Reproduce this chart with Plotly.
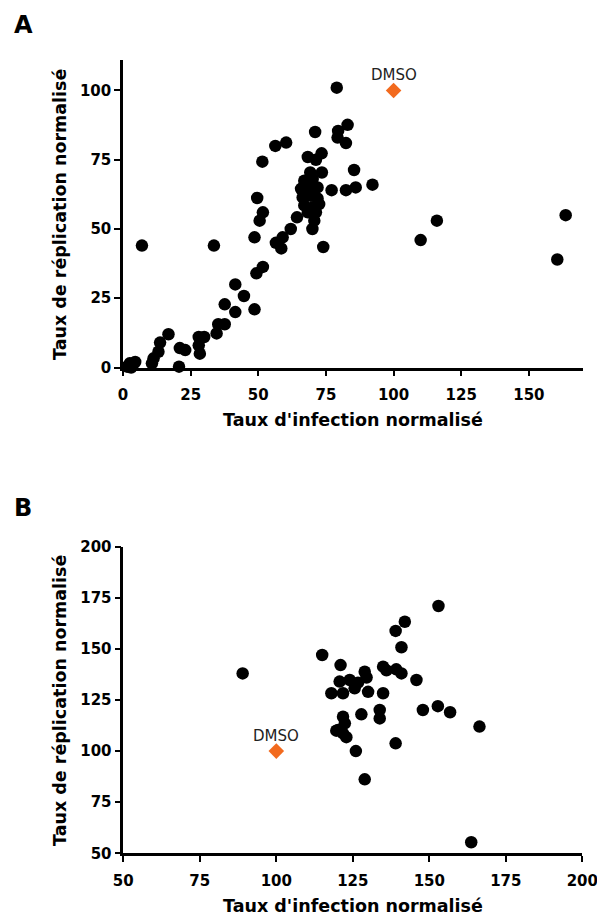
import plotly.graph_objects as go

# ---------------- Data ----------------
# Panel A : infection rate (x) vs replication rate (y), normalised to DMSO
a_infection = [79, 71, 83, 79.5, 79.3, 82.4, 56.3, 60.3, 51.5, 68.3, 73.4, 71.3, 85.4, 73.5, 69.2,
               67, 70.1, 65.8, 68.9, 71.9, 66.4, 69.5, 71.9, 67, 70.1, 72.5, 68.3, 71.3,
               77.1, 82.4, 86, 92.2, 49.6, 51.7, 50.5, 64.3, 62, 59, 56.5, 58.5,
               70.7, 70, 74, 48.6,
               7, 33.6, 51.7, 49.3, 41.5, 44.7, 37.6, 41.5, 48.6, 35.2, 37.6, 34.6, 28, 30, 28, 28.4,
               21, 23, 20.7, 16.8, 13.7, 13.1, 11.3, 10.7,
               1.5, 2.5, 3.5, 4.5, 3,
               116, 110, 163.6, 160.5]
a_replication = [101, 85, 87.6, 85.4, 83, 81, 80, 81.2, 74.3, 76, 77.3, 75, 71.3, 70.4, 70.4,
                 67.4, 68, 64.5, 65, 65, 61.4, 62, 61, 58.5, 57.8, 59, 56, 56,
                 64, 64, 65, 66, 61.2, 56, 53, 54.2, 50, 47, 45, 43,
                 53, 50, 43.5, 47,
                 44, 44, 36.3, 34, 30, 25.8, 22.8, 20, 21, 15.6, 15.6, 12.3, 11, 11, 8, 5,
                 7, 6.3, 0.3, 12, 9, 5.7, 3.3, 1.5,
                 0.3, 1.5, 0.5, 2, 0,
                 53, 46, 55, 39]

# Panel B
b_infection = [89, 115, 153, 142, 139, 140.9, 121, 128.9, 134.9, 136, 139.2, 140.9, 145.8,
               120.7, 124, 126.7, 125.6, 129.5, 118, 121.8, 130, 134.9,
               127.8, 133.8, 133.8, 121.8, 122.4, 120.2, 121.8, 122.9, 119.6,
               126, 139, 147.9, 152.8, 156.8, 166.4, 128.9, 163.7]
b_replication = [138, 147, 171, 163.3, 158.8, 150.8, 142.1, 138.8, 141.3, 139.5, 140, 138, 134.8,
                 134, 134.8, 133.5, 130.7, 136, 128.3, 128.3, 129, 128.3,
                 118, 120.1, 116, 116.8, 113.6, 110.3, 108.7, 106.8, 110,
                 100, 103.8, 120.1, 122, 119, 112, 86.2, 55.4]

dmso_x = [100]
dmso_y = [100]
dmso_label = "DMSO"

a_xticks = [0, 25, 50, 75, 100, 125, 150]
a_yticks = [0, 25, 50, 75, 100]
b_ticks = [50, 75, 100, 125, 150, 175, 200]

x_title = "Taux d'infection normalisé"
y_title = "Taux de réplication normalisé"

# ---------------- Figure ----------------
OFF = 0  # page body margin is removed by the post script below
W, H = 597, 920
FONT = "DejaVu Sans"
ORANGE = "#F26A1E"

def px_x(p):
    return (p - OFF) / W

def px_y(p):
    return 1 - (p - OFF) / H

fig = go.Figure()

dot = dict(color="black", size=12.5, line=dict(width=0))
dia = dict(color=ORANGE, size=12, symbol="diamond", line=dict(width=0))

fig.add_trace(go.Scatter(x=a_infection, y=a_replication, mode="markers", marker=dot,
                         xaxis="x", yaxis="y", cliponaxis=False, showlegend=False))
fig.add_trace(go.Scatter(x=dmso_x, y=dmso_y, mode="markers", marker=dia,
                         xaxis="x", yaxis="y", cliponaxis=False, showlegend=False))
fig.add_trace(go.Scatter(x=b_infection, y=b_replication, mode="markers", marker=dot,
                         xaxis="x2", yaxis="y2", cliponaxis=False, showlegend=False))
fig.add_trace(go.Scatter(x=dmso_x, y=dmso_y, mode="markers", marker=dia,
                         xaxis="x2", yaxis="y2", cliponaxis=False, showlegend=False))

axis_common = dict(showline=True, linecolor="black", linewidth=2.5, mirror=False,
                   ticks="outside", ticklen=6, tickwidth=2, tickcolor="black",
                   showgrid=False, zeroline=False, automargin=False,
                   ticklabeloverflow="allow",
                   tickfont=dict(family=FONT, size=15, color="black", weight="bold"))

fig.update_layout(
    template="none",
    width=W, height=H,
    margin=dict(l=0, r=0, t=0, b=0, pad=0, autoexpand=False),
    paper_bgcolor="white", plot_bgcolor="white",
    showlegend=False,
    xaxis=dict(domain=[px_x(123), px_x(583)], range=[0, 170], anchor="y",
               tickvals=a_xticks, ticklabelstandoff=6, **axis_common),
    yaxis=dict(domain=[px_y(367.5), px_y(60)], range=[0, 111], anchor="x",
               tickvals=a_yticks, **axis_common),
    xaxis2=dict(domain=[px_x(123.3), px_x(582.3)], range=[50, 200], anchor="y2",
                tickvals=b_ticks, ticklabelstandoff=6, **axis_common),
    yaxis2=dict(domain=[px_y(853.3), px_y(546.7)], range=[50, 200], anchor="x2",
                tickvals=b_ticks, **axis_common),
)

title_font = dict(family=FONT, size=17.5, color="black", weight="bold")
ann = []
# panel labels
ann.append(dict(text="A", x=px_x(12), y=px_y(25), xref="paper", yref="paper",
                xanchor="left", yanchor="middle", showarrow=False,
                font=dict(family=FONT, size=24, color="black", weight="bold")))
ann.append(dict(text="B", x=px_x(12), y=px_y(508), xref="paper", yref="paper",
                xanchor="left", yanchor="middle", showarrow=False,
                font=dict(family=FONT, size=24, color="black", weight="bold")))
# axis titles
ann.append(dict(text=x_title, x=px_x(353), y=px_y(420), xref="paper", yref="paper",
                xanchor="center", yanchor="middle", showarrow=False, font=title_font))
ann.append(dict(text=x_title, x=px_x(353), y=px_y(906), xref="paper", yref="paper",
                xanchor="center", yanchor="middle", showarrow=False, font=title_font))
ann.append(dict(text=y_title, x=px_x(60), y=px_y(214), xref="paper", yref="paper",
                xanchor="center", yanchor="middle", showarrow=False, textangle=-90,
                font=title_font))
ann.append(dict(text=y_title, x=px_x(60), y=px_y(700), xref="paper", yref="paper",
                xanchor="center", yanchor="middle", showarrow=False, textangle=-90,
                font=title_font))
# DMSO labels
dmso_font = dict(family=FONT, size=15, color="#222222")
ann.append(dict(text=dmso_label, x=dmso_x[0], y=dmso_y[0], xref="x", yref="y",
                yshift=15, showarrow=False, font=dmso_font))
ann.append(dict(text=dmso_label, x=dmso_x[0], y=dmso_y[0], xref="x2", yref="y2",
                yshift=15, showarrow=False, font=dmso_font))
fig.update_layout(annotations=ann)

fig.write_html(
    "out.html",
    config={"displayModeBar": False},
    post_script="document.body.style.margin='0';document.body.style.overflow='hidden';",
)
